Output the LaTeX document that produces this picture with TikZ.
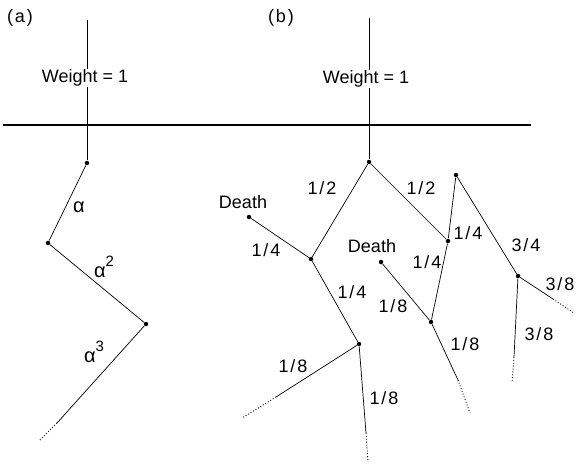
\documentclass[tikz,border=0pt]{standalone}
\usepackage{fontspec}
\setmainfont{Liberation Sans}
\begin{document}
\begin{tikzpicture}[x=1pt,y=-1pt,line width=0.7pt,
  lbl/.style={font=\fontsize{18}{18}\selectfont,inner sep=1pt},
  frac/.style={lbl,font=\fontsize{18}{18}\selectfont\addfontfeature{LetterSpace=10}},
  dotp/.style={circle,fill,inner sep=0pt,minimum size=4.5pt},
  tail/.style={dotted,line width=0.9pt}]
\useasboundingbox (0,0) rectangle (577,466);
% horizontal line
\coordinate (hl1) at (3,125);
\coordinate (hl2) at (531,125);
\draw[line width=1.1pt] (hl1) -- (hl2);
% panel (a)
\node[frac] (la) at (20,18) {(a)};
\coordinate (atop) at (87,20);
\node[dotp] (a1) at (87,163) {};
\node[dotp] (a2) at (48,243) {};
\node[dotp] (a3) at (146,324) {};
\coordinate (a4) at (57,423);
\coordinate (a5) at (40,440);
\draw (atop) -- (a1);
\node[lbl,fill=white] (aw) at (85,78) {Weight = 1};
\draw (a1) -- (a2) -- (a3) -- (a4);
\draw[tail] (a4) -- (a5);
\node[lbl,font=\fontsize{20}{20}\selectfont] (al1) at (79,207) {α};
\node[lbl,font=\fontsize{20}{20}\selectfont] (al2) at (104,267) {α\raisebox{0.55em}{\fontsize{15}{15}\selectfont 2}};
\node[lbl,font=\fontsize{20}{20}\selectfont] (al3) at (94,352) {α\raisebox{0.55em}{\fontsize{15}{15}\selectfont 3}};
% panel (b)
\node[frac] (lb) at (281,18) {(b)};
\coordinate (btop) at (369,18);
\node[dotp] (b0) at (369,162) {};
\node[dotp] (b1) at (311,259) {};
\node[dotp] (b2) at (448,241) {};
\node[dotp] (bd1) at (249,217) {};
\node[dotp] (b3) at (359,344) {};
\node[dotp] (bd2) at (381,262) {};
\node[dotp] (b4) at (431,322) {};
\node[dotp] (b5) at (456,175) {};
\node[dotp] (b6) at (518,276) {};
\coordinate (b3l) at (276,397);
\coordinate (b3le) at (242,418);
\coordinate (b3d) at (366,433);
\coordinate (b3de) at (368,462);
\coordinate (b4e) at (458,380);
\coordinate (b4ee) at (470,413);
\coordinate (b6r) at (553,299);
\coordinate (b6re) at (574,313);
\coordinate (b6d) at (514,357);
\coordinate (b6de) at (512,383);
\draw (btop) -- (b0);
\node[lbl,fill=white] (bw) at (366,79) {Weight = 1};
\draw (b0) -- (b1);
\draw (b0) -- (b2);
\draw (b1) -- (bd1);
\draw (b1) -- (b3);
\draw (b3) -- (b3l);
\draw[tail] (b3l) -- (b3le);
\draw (b3) -- (b3d);
\draw[tail] (b3d) -- (b3de);
\draw (bd2) -- (b4);
\draw (b2) -- (b4);
\draw (b2) -- (b5);
\draw (b4) -- (b4e);
\draw[tail] (b4e) -- (b4ee);
\draw (b5) -- (b6);
\draw (b6) -- (b6r);
\draw[tail] (b6r) -- (b6re);
\draw (b6) -- (b6d);
\draw[tail] (b6d) -- (b6de);
% labels
\node[frac] (t1) at (322,188) {1/2};
\node[frac] (t2) at (421,188) {1/2};
\node[lbl] (d1) at (243,202) {Death};
\node[frac] (t3) at (266,250) {1/4};
\node[frac] (t4) at (352,292) {1/4};
\node[lbl] (d2) at (372,246) {Death};
\node[frac] (t5) at (393,306) {1/8};
\node[frac] (t6) at (427,262) {1/4};
\node[frac] (t7) at (468,233) {1/4};
\node[frac] (t8) at (526,245) {3/4};
\node[frac] (t9) at (560,284) {3/8};
\node[frac] (t10) at (539,334) {3/8};
\node[frac] (t11) at (465,344) {1/8};
\node[frac] (t12) at (293,366) {1/8};
\node[frac] (t13) at (384,398) {1/8};
\end{tikzpicture}
\end{document}
